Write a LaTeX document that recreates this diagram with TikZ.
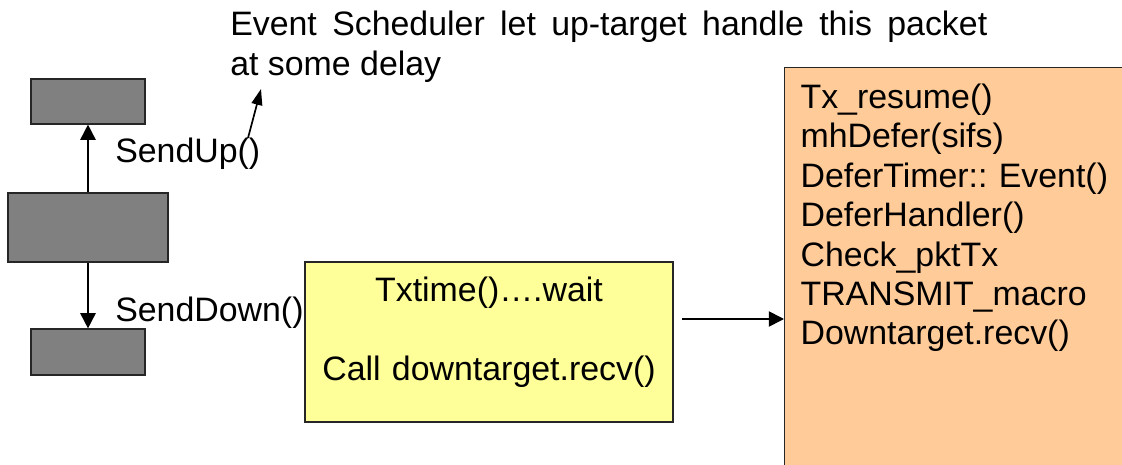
\documentclass[tikz,border=0pt]{standalone}
\usepackage{fontspec}
\setmainfont{Liberation Sans}
\usetikzlibrary{arrows.meta}
\definecolor{waitfill}{HTML}{FFFF99}
\definecolor{stepfill}{HTML}{FFCC99}
\begin{document}
\begin{tikzpicture}[
   >={Triangle[length=0.38cm,width=0.38cm]},
   every node/.style={font=\fontsize{24.1}{28}\selectfont,inner sep=0pt},
   layer/.style={draw=black!85,thick,fill=black!50},
   box/.style={draw=black!85,thick},
   call/.style={anchor=base west}]
   \useasboundingbox (0,0) rectangle (28.05,11.6);
   % the three layers
   \node[layer,minimum width=2.85cm,minimum height=1.125cm] (uplayer) at (2.2,9.0625) {};
   \node[layer,minimum width=4cm,minimum height=1.725cm] (midlayer) at (2.2,5.9125) {};
   \node[layer,minimum width=2.85cm,minimum height=1.15cm] (downlayer) at (2.2,2.8) {};
   \draw[->,very thick] (midlayer) -- (uplayer);
   \draw[->,very thick] (midlayer) -- (downlayer);
   \node[call] (sendup) at (2.875,7.525) {SendUp()};
   \node[call] (senddown) at (2.875,3.55) {SendDown()};
  %
   \node[call,text width=18.925cm,align=justify] (sched) at (5.75,10.7)
      {Event Scheduler let up-target handle this packet\linebreak at some delay};
   \coordinate (upcall) at (6.2,8.15);
   \coordinate (delay) at (6.525,9.375);
   \draw[-{Triangle[length=0.4cm,width=0.27cm]},very thick] (upcall) -- (delay);
  %
   \node[box,fill=waitfill,minimum width=9.2cm,minimum height=4cm,text width=9.2cm,
      align=center,text height=0.625cm,text depth=2.625cm] (txwait) at (12.225,3.05)
      {Txtime()….wait\\[28pt]Call downtarget.recv()};
   \node[box,fill=stepfill,anchor=north west,inner sep=0.4cm,text width=7.85cm,
      align=left,text height=0.625cm,text depth=8.7cm] (txsteps) at (19.6,9.925)
      {Tx\_resume()\\mhDefer(sifs)\\DeferTimer::\ Event()\\DeferHandler()\\Check\_pktTx\\TRANSMIT\_macro\\Downtarget.recv()};
   \coordinate (handoff) at ([shift={(0.2,0.575)}]txwait.east);
   \draw[->,very thick] (handoff) -- (handoff -| txsteps.west);
\end{tikzpicture}
\end{document}
